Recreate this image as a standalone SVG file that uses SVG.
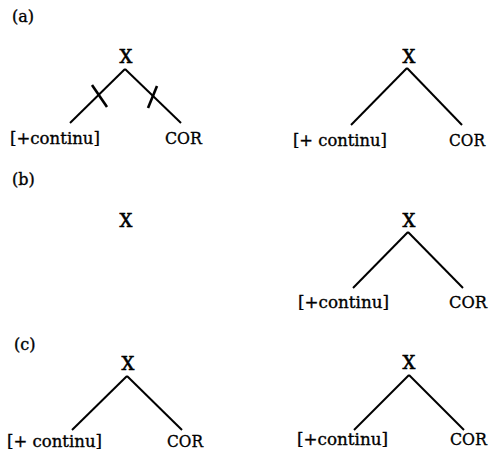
<svg xmlns="http://www.w3.org/2000/svg" width="489" height="455" viewBox="0 0 489 455">
<style>
text{font-family:"DejaVu Serif","Liberation Serif",serif;font-size:17px;fill:#000;stroke:#000;stroke-width:0.35}
.x{text-anchor:middle;font-size:18px;stroke-width:0.6}
.lbl{font-size:16px}
line{stroke:#000;stroke-width:2;stroke-linecap:butt}
.tick{stroke-width:2.6}
</style>
<rect width="489" height="455" fill="#fff"/>
<text x="12" y="22" class="lbl">(a)</text>
<text x="12" y="185" class="lbl">(b)</text>
<text x="14" y="350" class="lbl">(c)</text>
<g id="connectors">
<line x1="125" y1="69" x2="70" y2="123"/>
<line x1="125" y1="69" x2="181" y2="123"/>
<line class="tick" x1="92" y1="85" x2="107" y2="107"/>
<line class="tick" x1="157" y1="86" x2="148" y2="108"/>
<line x1="407" y1="68" x2="351" y2="125"/>
<line x1="407" y1="68" x2="462" y2="125"/>
<line x1="408" y1="232" x2="353" y2="288"/>
<line x1="408" y1="232" x2="463" y2="288"/>
<line x1="127" y1="376" x2="72" y2="430"/>
<line x1="127" y1="376" x2="182" y2="430"/>
<line x1="409" y1="375" x2="354" y2="430"/>
<line x1="409" y1="375" x2="464" y2="430"/>
</g>
<g id="a1-x"><text x="126" y="63" class="x">X</text></g>
<g id="a1-cont"><text x="10" y="144" textLength="90" lengthAdjust="spacingAndGlyphs">[+continu]</text></g>
<g id="a1-cor"><text x="165" y="144" textLength="37" lengthAdjust="spacingAndGlyphs">COR</text></g>
<g id="a2-x"><text x="409" y="63" class="x">X</text></g>
<g id="a2-cont"><text x="293" y="146" textLength="94" lengthAdjust="spacingAndGlyphs">[+ continu]</text></g>
<g id="a2-cor"><text x="449" y="146" textLength="36" lengthAdjust="spacingAndGlyphs">COR</text></g>
<g id="b1-x"><text x="126" y="227" class="x">X</text></g>
<g id="b2-x"><text x="409" y="227" class="x">X</text></g>
<g id="b2-cont"><text x="298" y="308" textLength="91" lengthAdjust="spacingAndGlyphs">[+continu]</text></g>
<g id="b2-cor"><text x="449" y="308" textLength="38" lengthAdjust="spacingAndGlyphs">COR</text></g>
<g id="c1-x"><text x="128" y="370" class="x">X</text></g>
<g id="c1-cont"><text x="7" y="447" textLength="95" lengthAdjust="spacingAndGlyphs">[+ continu]</text></g>
<g id="c1-cor"><text x="167" y="447" textLength="36" lengthAdjust="spacingAndGlyphs">COR</text></g>
<g id="c2-x"><text x="409" y="369" class="x">X</text></g>
<g id="c2-cont"><text x="297" y="445" textLength="91" lengthAdjust="spacingAndGlyphs">[+continu]</text></g>
<g id="c2-cor"><text x="450" y="445" textLength="37" lengthAdjust="spacingAndGlyphs">COR</text></g>
</svg>
